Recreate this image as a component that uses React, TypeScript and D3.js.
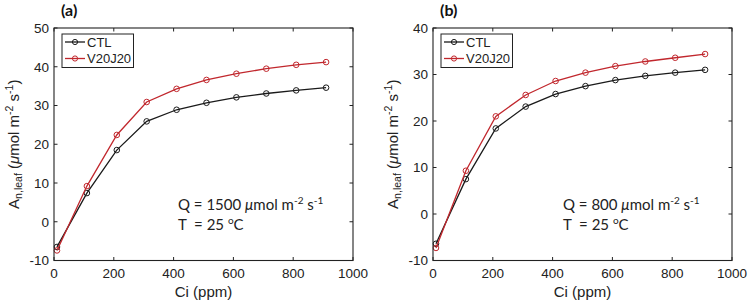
import React from "react";
import * as d3 from "d3";

const ciValues = [10, 110, 210, 310, 410, 510, 610, 710, 810, 910];
const ctlA = [-6.5, 7.4, 18.5, 25.9, 28.9, 30.7, 32.1, 33.1, 33.9, 34.6];
const v20A = [-7.4, 9.2, 22.4, 30.9, 34.3, 36.6, 38.2, 39.5, 40.5, 41.2];
const ctlB = [-6.4, 7.5, 18.4, 23.1, 25.8, 27.5, 28.8, 29.7, 30.4, 31.0];
const v20B = [-7.3, 9.3, 21.0, 25.6, 28.6, 30.4, 31.8, 32.8, 33.6, 34.4];
const xTicks = [0, 200, 400, 600, 800, 1000];
const yTicksA = [-10, 0, 10, 20, 30, 40, 50];
const yTicksB = [-10, 0, 10, 20, 30, 40];
const seriesNames = ["CTL", "V20J20"];
const seriesColors = ["#1a1a1a", "#c1272d"];

const AXIS_FONT = "'Liberation Sans', Arial, sans-serif";
const NOTE_FONT = "Lato, 'Open Sans', sans-serif";

type PanelProps = {
  x0: number;
  label: string;
  yDomain: [number, number];
  yTicks: number[];
  ctl: number[];
  v20: number[];
  qText: string;
  noteX: number;
};

function Panel({ x0, label, yDomain, yTicks, ctl, v20, qText, noteX }: PanelProps) {
  const left = x0;
  const right = x0 + 299;
  const top = 28;
  const bottom = 260.5;
  const xs = d3.scaleLinear().domain([0, 1000]).range([left, right]);
  const ys = d3.scaleLinear().domain(yDomain).range([bottom, top]);
  const line = d3
    .line<number>()
    .x((_, i) => xs(ciValues[i]))
    .y((d) => ys(d));
  const series = [ctl, v20];
  const tl = 3.5;
  const lx = left + 8;
  const ly = 34;
  return (
    <g>
      <text x={left + 7} y={15.5} fontFamily={NOTE_FONT} fontWeight="bold" fontSize={16} fill="#111">
        {label}
      </text>
      {series.map((s, si) => (
        <g key={si}>
          <path d={line(s) || ""} fill="none" stroke={seriesColors[si]} strokeWidth={1.3} />
          {s.map((v, i) => (
            <circle key={i} cx={xs(ciValues[i])} cy={ys(v)} r={2.8} fill="none" stroke={seriesColors[si]} strokeWidth={1} />
          ))}
        </g>
      ))}
      <rect x={left} y={top} width={right - left} height={bottom - top} fill="none" stroke="#222" strokeWidth={1.1} />
      {xTicks.map((t) => (
        <g key={"x" + t}>
          <line x1={xs(t)} x2={xs(t)} y1={bottom} y2={bottom - tl} stroke="#222" />
          <line x1={xs(t)} x2={xs(t)} y1={top} y2={top + tl} stroke="#222" />
          <text x={xs(t)} y={278} textAnchor="middle" fontFamily={AXIS_FONT} fontSize={13.5} fill="#222">
            {t}
          </text>
        </g>
      ))}
      {yTicks.map((t) => (
        <g key={"y" + t}>
          <line x1={left} x2={left + tl} y1={ys(t)} y2={ys(t)} stroke="#222" />
          <line x1={right} x2={right - tl} y1={ys(t)} y2={ys(t)} stroke="#222" />
          <text x={left - 5} y={ys(t) + 4.8} textAnchor="end" fontFamily={AXIS_FONT} fontSize={13.5} fill="#222">
            {t}
          </text>
        </g>
      ))}
      <text x={(left + right) / 2} y={297} textAnchor="middle" fontFamily={AXIS_FONT} fontSize={15} fill="#222">
        Ci (ppm)
      </text>
      <text
        transform={`translate(${left - 35},${(top + bottom) / 2}) rotate(-90)`}
        textAnchor="middle"
        fontFamily={AXIS_FONT}
        fontSize={15}
        fill="#222"
      >
        A<tspan fontSize={10.5} dy={3}>n,leaf</tspan>
        <tspan dy={-3}> (</tspan>
        <tspan fontStyle="italic">μ</tspan>mol m<tspan fontSize={10.5} dy={-6}>-2</tspan>
        <tspan dy={6}> s</tspan>
        <tspan fontSize={10.5} dy={-6}>-1</tspan>
        <tspan dy={6}>)</tspan>
      </text>
      <rect x={lx} y={ly} width={71.5} height={33.5} fill="#fff" stroke="#222" strokeWidth={1} />
      {seriesNames.map((n, i) => (
        <g key={n}>
          <line x1={lx + 3} x2={lx + 23} y1={ly + 8 + i * 16.5} y2={ly + 8 + i * 16.5} stroke={seriesColors[i]} strokeWidth={1.3} />
          <circle cx={lx + 13} cy={ly + 8 + i * 16.5} r={2.6} fill="none" stroke={seriesColors[i]} strokeWidth={1} />
          <text x={lx + 25} y={ly + 12.5 + i * 16.5} fontFamily={AXIS_FONT} fontSize={13} fill="#222">
            {n}
          </text>
        </g>
      ))}
      <text x={noteX} y={210} fontFamily={NOTE_FONT} fontSize={15} fill="#222">
        {qText} <tspan fontStyle="italic">μ</tspan>mol m<tspan fontSize={10} dy={-6}>-2</tspan>
        <tspan dy={6}> s</tspan>
        <tspan fontSize={10} dy={-6}>-1</tspan>
      </text>
      <text x={noteX} y={230} fontFamily={NOTE_FONT} fontSize={15} fill="#222">
        {"T\u00a0 = 25 "}
        <tspan fontSize={10} dy={-6}>o</tspan>
        <tspan dy={6}>C</tspan>
      </text>
    </g>
  );
}

export default function App() {
  return (
    <svg width={748} height={302} style={{ position: "absolute", left: 0, top: 0, background: "#fff" }}>
      <rect width={748} height={302} fill="#fff" />
      <Panel x0={54} label="(a)" yDomain={[-10, 50]} yTicks={yTicksA} ctl={ctlA} v20={v20A} qText="Q = 1500" noteX={178} />
      <Panel x0={433} label="(b)" yDomain={[-10, 40]} yTicks={yTicksB} ctl={ctlB} v20={v20B} qText="Q = 800" noteX={563} />
    </svg>
  );
}
